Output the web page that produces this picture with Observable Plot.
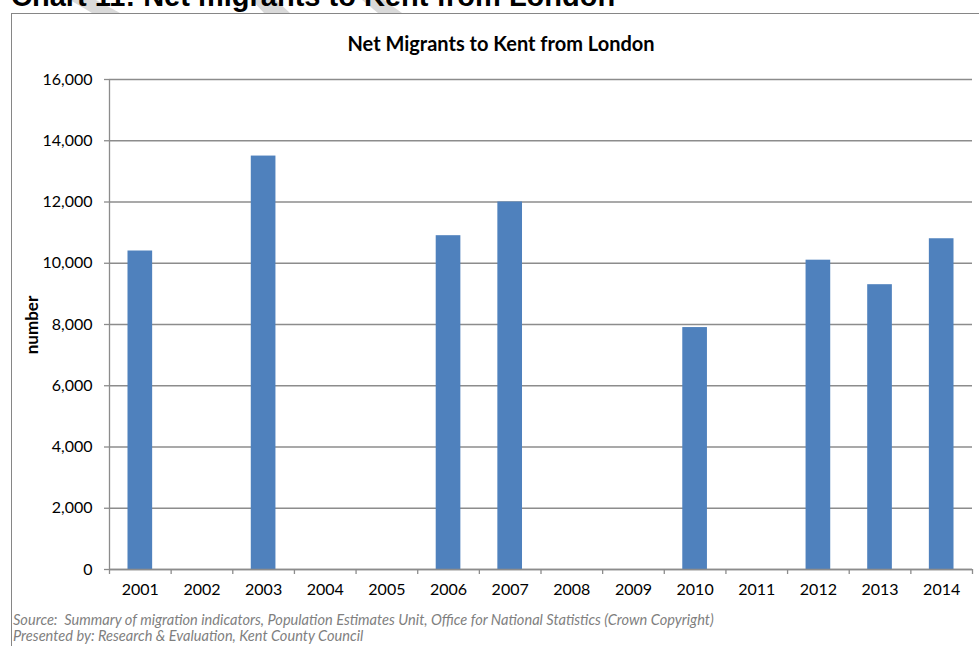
<!DOCTYPE html>
<html>
<head>
<meta charset="utf-8">
<script src="https://cdn.jsdelivr.net/npm/d3@7"></script>
<script src="https://cdn.jsdelivr.net/npm/@observablehq/plot@0.6"></script>
<style>
  html, body { margin: 0; padding: 0; background: #fff; width: 979px; height: 646px; overflow: hidden; }
  #wrap { position: relative; width: 979px; height: 646px; }
  .stripe { position: absolute; top: 0; height: 13px; background: #d9d9d9; }
  #heading { position: absolute; left: 11px; top: -20px; font: bold 29px "Liberation Sans", Arial, sans-serif; color: #000; white-space: nowrap; }
  #box { position: absolute; left: 11px; top: 13px; width: 990px; height: 700px; border: 1px solid #868686; box-sizing: border-box; }
  #chart { position: absolute; left: 0; top: 0; }
  #title { position: absolute; left: 0; width: 1002px; top: 31px; text-align: center; font: bold 20px Lato, "Open Sans", sans-serif; color: #000; }
  #ylabel { position: absolute; left: 31px; top: 325px; transform: translate(-50%, -50%) rotate(-90deg); font: bold 17px Lato, sans-serif; color: #000; white-space: nowrap; }
  #caption { position: absolute; left: 13px; top: 612px; font: italic 14.6px Lato, "Open Sans", sans-serif; color: #7f7f7f; line-height: 16px; white-space: nowrap; }
</style>
</head>
<body>
<div id="wrap">
  <div class="stripe" style="left:70px;width:50px;clip-path:polygon(0 0,26px 0,50px 100%,22px 100%);"></div>
  <div class="stripe" style="left:252px;width:38px;clip-path:polygon(0 0,24px 0,38px 100%,12px 100%);"></div>
  <div class="stripe" style="left:362px;width:40px;clip-path:polygon(0 0,22px 0,40px 100%,16px 100%);"></div>
  <div id="heading">Chart 11: Net migrants to Kent from London</div>
  <div id="box"></div>
  <div id="chart"></div>
  <div id="title">Net Migrants to Kent from London</div>
  <div id="ylabel">number</div>
  <div id="caption">Source:&nbsp; Summary of migration indicators, Population Estimates Unit, Office for National Statistics (Crown Copyright)<br>Presented by: Research &amp; Evaluation, Kent County Council</div>
</div>
<script>
const years = [2001, 2002, 2003, 2004, 2005, 2006, 2007, 2008, 2009, 2010, 2011, 2012, 2013, 2014];
const netMigrants = [10400, null, 13500, null, null, 10900, 12000, null, null, 7900, null, 10100, 9300, 10800];
const yTicks = [0, 2000, 4000, 6000, 8000, 10000, 12000, 14000, 16000];

const data = years.map((year, i) => ({year, value: netMigrants[i]})).filter(d => d.value != null);
const boundaries = [...years.map(y => y - 0.5), years[years.length - 1] + 0.5];
const halfBar = 0.2;

const chart = Plot.plot({
  width: 979,
  height: 646,
  marginLeft: 109,
  marginRight: 7,
  marginTop: 79,
  marginBottom: 77,
  style: {fontFamily: "Lato, 'Open Sans', sans-serif", fontSize: "16px", color: "#000", background: "transparent"},
  x: {type: "linear", domain: [boundaries[0], boundaries[boundaries.length - 1]], axis: null},
  y: {domain: [0, 16000], axis: null},
  marks: [
    Plot.gridY(yTicks, {stroke: "#8c8c8c", strokeOpacity: 1, strokeWidth: 1.3}),
    Plot.axisY(yTicks, {tickSize: 5, tickPadding: 12, stroke: "#8c8c8c", strokeOpacity: 1, strokeWidth: 1.3, tickFormat: d3.format(","), fontSize: 16, label: null}),
    Plot.ruleX([boundaries[0]], {stroke: "#8c8c8c", strokeWidth: 1.3}),
    Plot.rectY(data, {x1: d => d.year - halfBar, x2: d => d.year + halfBar, y1: 0, y2: "value", fill: "#4f81bd"}),
    Plot.ruleY([0], {stroke: "#8c8c8c", strokeWidth: 1.3}),
    Plot.axisX(boundaries, {tickSize: 5, stroke: "#8c8c8c", strokeOpacity: 1, strokeWidth: 1.3, tickFormat: () => "", label: null}),
    Plot.axisX(years, {tickSize: 0, tickPadding: 14, tickFormat: d => String(d), fontSize: 16, label: null})
  ]
});
document.getElementById("chart").appendChild(chart);
</script>
</body>
</html>
